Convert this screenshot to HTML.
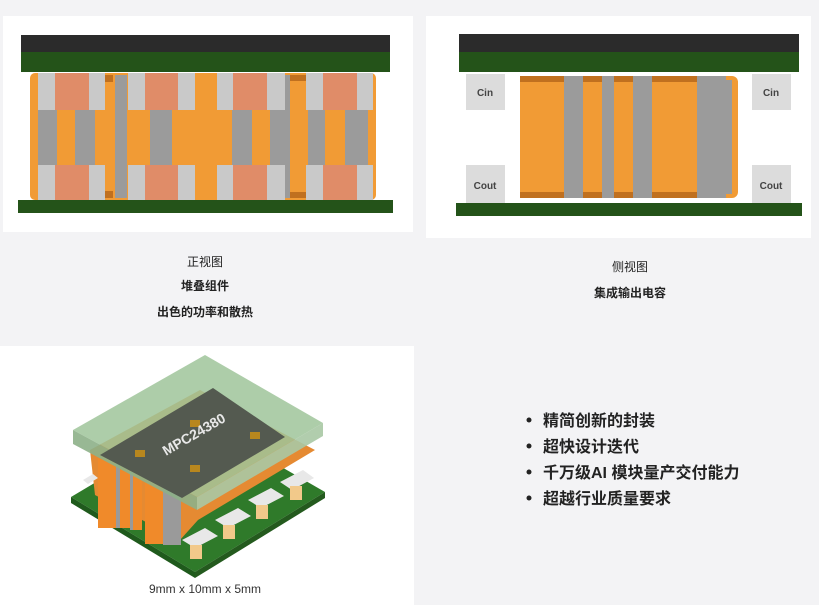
<!DOCTYPE html>
<html><head><meta charset="utf-8"><style>
html,body{margin:0;padding:0;width:819px;height:605px;overflow:hidden;background:#f3f3f5;}
svg{display:block}
text{font-family:"Liberation Sans","Noto Sans CJK SC",sans-serif;}
</style></head><body>
<svg width="819" height="605" viewBox="0 0 819 605" xmlns="http://www.w3.org/2000/svg">
<rect x="0" y="0" width="819" height="605" fill="#f3f3f5"/>
<!-- panels -->
<rect x="3" y="16" width="410" height="216" fill="#ffffff"/>
<rect x="426" y="16" width="385" height="222" fill="#ffffff"/>
<rect x="0" y="346" width="414" height="259" fill="#ffffff"/>

<!-- TOP LEFT -->
<rect x="21" y="35" width="369" height="17" fill="#2b2b2b"/>
<rect x="21" y="52" width="369" height="20" fill="#245319"/>
<rect x="30" y="73" width="346" height="127" rx="5" fill="#f19b35"/>
<g fill="#c9c9c9">
<rect x="38" y="73" width="17" height="37"/><rect x="89" y="73" width="16" height="37"/>
<rect x="128" y="73" width="17" height="37"/><rect x="178" y="73" width="17" height="37"/>
<rect x="217" y="73" width="16" height="37"/><rect x="267" y="73" width="18" height="37"/>
<rect x="306" y="73" width="17" height="37"/><rect x="357" y="73" width="16" height="37"/>
<rect x="38" y="165" width="17" height="35"/><rect x="89" y="165" width="16" height="35"/>
<rect x="128" y="165" width="17" height="35"/><rect x="178" y="165" width="17" height="35"/>
<rect x="217" y="165" width="16" height="35"/><rect x="267" y="165" width="18" height="35"/>
<rect x="306" y="165" width="17" height="35"/><rect x="357" y="165" width="16" height="35"/>
</g>
<g fill="#e08c68">
<rect x="55" y="73" width="34" height="37"/><rect x="145" y="73" width="33" height="37"/>
<rect x="233" y="73" width="34" height="37"/><rect x="323" y="73" width="34" height="37"/>
<rect x="55" y="165" width="34" height="35"/><rect x="145" y="165" width="33" height="35"/>
<rect x="233" y="165" width="34" height="35"/><rect x="323" y="165" width="34" height="35"/>
</g>
<g fill="#9b9b9b">
<rect x="38" y="110" width="19" height="55"/><rect x="75" y="110" width="20" height="55"/>
<rect x="115" y="75" width="12" height="123"/><rect x="150" y="110" width="22" height="55"/>
<rect x="232" y="110" width="20" height="55"/><rect x="270" y="110" width="20" height="55"/>
<rect x="285" y="75" width="5" height="123"/>
<rect x="308" y="110" width="17" height="55"/><rect x="345" y="110" width="23" height="55"/>
</g>
<rect x="105" y="75" width="8" height="7" fill="#c0701f"/><rect x="105" y="191" width="8" height="7" fill="#c0701f"/>
<rect x="290" y="75" width="16" height="6" fill="#c0701f"/><rect x="290" y="192" width="16" height="6" fill="#c0701f"/>
<rect x="18" y="200" width="375" height="13" fill="#245319"/>

<!-- TOP RIGHT -->
<rect x="459" y="34" width="340" height="18" fill="#2b2b2b"/>
<rect x="459" y="52" width="340" height="20" fill="#245319"/>
<rect x="466" y="74" width="39" height="36" fill="#dcdcdc"/><rect x="752" y="74" width="39" height="36" fill="#dcdcdc"/>
<rect x="466" y="165" width="39" height="38" fill="#dcdcdc"/><rect x="752" y="165" width="39" height="38" fill="#dcdcdc"/>
<g font-size="10" font-weight="bold" fill="#444" text-anchor="middle">
<text x="485" y="96">Cin</text><text x="771" y="96">Cin</text>
<text x="485" y="189">Cout</text><text x="771" y="189">Cout</text></g>
<rect x="718" y="76" width="20" height="122" rx="6" fill="#f19b35"/>
<rect x="520" y="76" width="206" height="122" fill="#9b9b9b"/>
<rect x="726" y="80" width="6" height="114" fill="#9b9b9b"/>
<g fill="#f19b35"><rect x="520" y="76" width="44" height="122"/><rect x="583" y="76" width="19" height="122"/>
<rect x="614" y="76" width="19" height="122"/><rect x="652" y="76" width="45" height="122"/></g>
<g fill="#c0701f"><rect x="520" y="76" width="44" height="6"/><rect x="583" y="76" width="19" height="6"/><rect x="614" y="76" width="19" height="6"/><rect x="652" y="76" width="45" height="6"/>
<rect x="520" y="192" width="44" height="6"/><rect x="583" y="192" width="19" height="6"/><rect x="614" y="192" width="19" height="6"/><rect x="652" y="192" width="45" height="6"/></g>
<rect x="456" y="203" width="346" height="13" fill="#245319"/>

<!-- captions -->
<g font-size="12" fill="#222" text-anchor="middle">
<text x="205" y="266">正视图</text>
<text x="205" y="290" font-weight="bold">堆叠组件</text>
<text x="205" y="316" font-weight="bold">出色的功率和散热</text>
<text x="630" y="271">侧视图</text>
<text x="630" y="297" font-weight="bold">集成输出电容</text>
</g>

<!-- bullets -->
<g font-size="16" font-weight="bold" fill="#222">
<circle cx="529" cy="420" r="2.5"/><text x="543" y="426">精简创新的封装</text>
<circle cx="529" cy="446" r="2.5"/><text x="543" y="452">超快设计迭代</text>
<circle cx="529" cy="472" r="2.5"/><text x="543" y="478">千万级AI 模块量产交付能力</text>
<circle cx="529" cy="498" r="2.5"/><text x="543" y="504">超越行业质量要求</text>
</g>

<!-- 3D chip -->
<polygon points="71,497 200,420 325,492 195,572" fill="#2f7a2a"/>
<polygon points="71,497 195,572 195,578 71,503" fill="#1f5a1c"/>
<polygon points="195,572 325,492 325,498 195,578" fill="#245a1e"/>
<polygon points="90,450 200,390 315,450 198,520 180,540 95,495" fill="#e58a32"/>
<g fill="#e8e8e8">
<polygon points="182,540 205,528 218,536 195,548"/><polygon points="215,520 238,508 251,516 228,528"/>
<polygon points="248,500 271,488 284,496 261,508"/><polygon points="280,482 303,470 314,478 292,490"/>
<polygon points="83,480 93,474 98,478 88,484"/></g>
<g fill="#f2c98a">
<rect x="190" y="545" width="12" height="14"/><rect x="223" y="525" width="12" height="14"/><rect x="256" y="505" width="12" height="14"/><rect x="290" y="486" width="12" height="14"/></g>
<g fill="#f08a2a"><rect x="98" y="458" width="18" height="70"/><rect x="120" y="470" width="10" height="58"/><rect x="132" y="475" width="10" height="55"/><rect x="145" y="482" width="18" height="62"/></g>
<g fill="#9a9a9a"><rect x="116" y="462" width="4" height="66"/><rect x="130" y="472" width="3" height="58"/><rect x="163" y="485" width="18" height="60"/></g>
<polygon points="73,430 205,355 323,423 197,497" fill="#9fc49a" opacity="0.85"/>
<polygon points="73,430 197,497 197,510 73,444" fill="#8db088" opacity="0.9"/>
<polygon points="197,497 323,423 323,436 197,510" fill="#a9c8a4" opacity="0.9"/>
<polygon points="100,455 213,388 285,437 182,498" fill="#545a50"/>
<g fill="#b8871e"><rect x="190" y="420" width="10" height="7"/><rect x="250" y="432" width="10" height="7"/><rect x="190" y="465" width="10" height="7"/><rect x="135" y="450" width="10" height="7"/></g>
<text x="0" y="0" font-size="14" font-weight="bold" fill="#e8e8e8" transform="translate(166,456) rotate(-30)">MPC24380</text>
<text x="205" y="593" font-size="12" fill="#333" text-anchor="middle">9mm x 10mm x 5mm</text>
</svg>
</body></html>
